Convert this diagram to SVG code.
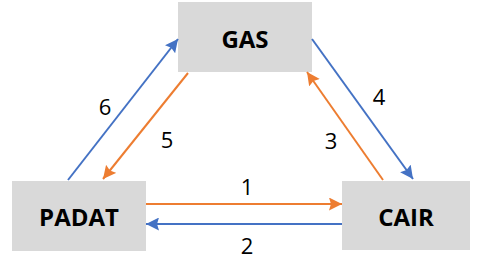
<svg xmlns="http://www.w3.org/2000/svg" width="492" height="278" viewBox="0 0 492 278">
<defs>
<style>
.box{fill:#d9d9d9}
.lbl{font-family:"Open Sans","Noto Sans",sans-serif;font-weight:bold;font-size:24px;fill:#000;text-anchor:middle;dominant-baseline:central}
.num{font-family:"Open Sans","Noto Sans",sans-serif;font-size:22px;fill:#000;text-anchor:middle;dominant-baseline:central}
.b{stroke:#4472c4;stroke-width:2;fill:none;marker-end:url(#ab)}
.o{stroke:#ed7d31;stroke-width:2;fill:none;marker-end:url(#ao)}
</style>
<marker id="ab" viewBox="0 0 10 10" refX="10" refY="5" markerWidth="6.5" markerHeight="6.5" markerUnits="strokeWidth" orient="auto"><path d="M0,0 L10,5 L0,10 L1.5,5 z" fill="#4472c4"/></marker>
<marker id="ao" viewBox="0 0 10 10" refX="10" refY="5" markerWidth="6.5" markerHeight="6.5" markerUnits="strokeWidth" orient="auto"><path d="M0,0 L10,5 L0,10 L1.5,5 z" fill="#ed7d31"/></marker>
</defs>
<g id="gas"><rect class="box" x="178" y="2" width="134" height="70"/><text class="lbl" x="245" y="38">GAS</text></g>
<g id="padat"><rect class="box" x="12" y="181" width="134" height="70"/><text class="lbl" x="79" y="216">PADAT</text></g>
<g id="cair"><rect class="box" x="342" y="181" width="128" height="69"/><text class="lbl" x="406" y="216">CAIR</text></g>
<g id="connectors">
<line class="o" x1="146" y1="204" x2="342" y2="204"/>
<line class="b" x1="342" y1="224" x2="146" y2="224"/>
<line class="b" x1="68" y1="180" x2="178" y2="39"/>
<line class="o" x1="188" y1="73" x2="103" y2="179"/>
<line class="b" x1="312" y1="39" x2="413" y2="179"/>
<line class="o" x1="383" y1="180" x2="307" y2="72"/>
</g>
<g id="labels">
<text class="num" x="247" y="186">1</text>
<text class="num" x="247" y="245">2</text>
<text class="num" x="331" y="140">3</text>
<text class="num" x="379" y="96">4</text>
<text class="num" x="167" y="139">5</text>
<text class="num" x="105" y="106">6</text>
</g>
</svg>
